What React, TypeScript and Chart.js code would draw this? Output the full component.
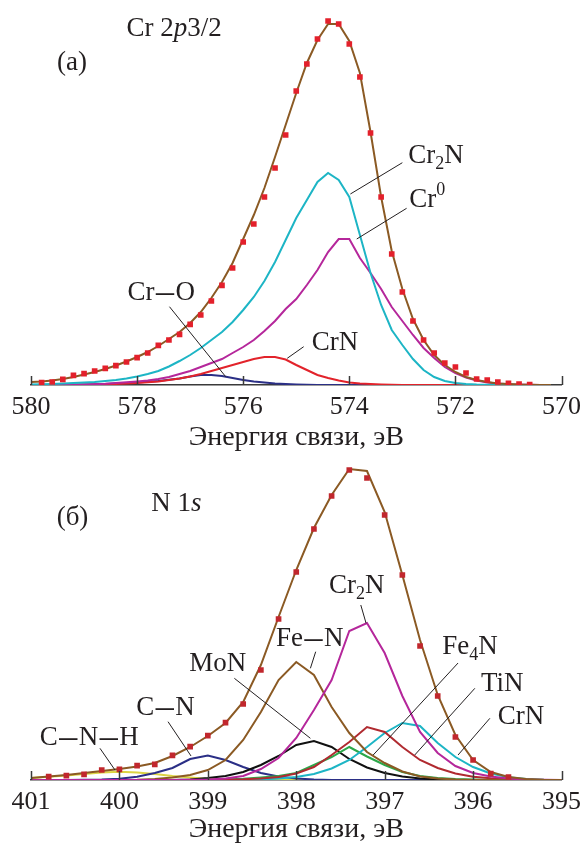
import React, { useEffect, useRef } from "react";
import { Chart, registerables } from "chart.js";
Chart.register(...registerables);

const FONT_FAMILY = '"Liberation Serif", "Times New Roman", serif';
const TEXT = "#231f20";

// ---------- Panel (a): Cr 2p3/2 ----------
const energyA = [
  580.0, 579.8, 579.6, 579.4, 579.2, 579.0, 578.8, 578.6, 578.4, 578.2,
  578.0, 577.8, 577.6, 577.4, 577.2, 577.0, 576.8, 576.6, 576.4, 576.2,
  576.0, 575.8, 575.6, 575.4, 575.2, 575.0, 574.8, 574.6, 574.4, 574.2,
  574.0, 573.8, 573.6, 573.4, 573.2, 573.0, 572.8, 572.6, 572.4, 572.2,
  572.0, 571.8, 571.6, 571.4, 571.2, 571.0, 570.8, 570.6, 570.4, 570.2,
];
const pointsEnergyA = energyA.slice(1, 48);
const pointsA = [
  2.3, 3, 5.7, 9.7, 11.3, 14, 16.7, 19.3, 23, 27.3, 32, 39.7, 45, 50.7, 60.7,
  70, 84, 99.7, 117, 143, 161, 188, 217, 250, 294, 321, 346, 364, 361, 341,
  308, 252, 188, 131, 93, 64, 45, 32, 22, 18, 12, 6, 5, 3, 1.7, 1, 0.3,
];
const envelopeA = [
  3, 3.5, 4.5, 6, 8, 10.5, 13, 16, 19.5, 23.5, 28, 33, 39, 46, 53, 62, 73, 87,
  103, 122, 146, 170, 197, 228, 260, 292, 322, 345, 361, 361, 344, 312, 253,
  188, 134, 96, 66, 45, 30, 20, 13, 8, 5, 3, 1.5, 1, 0.5, 0.3, 0.1, 0,
];
const cr2nA = [
  0.5, 0.7, 1, 1.5, 2, 2.5, 3, 4, 5, 6.5, 8.5, 11, 14, 18.5, 24, 30, 37, 45,
  53, 63, 75, 88, 104, 123, 145, 167, 185, 203, 212, 205, 188, 150, 112, 80,
  55, 40, 26, 15, 8, 4, 2, 1, 0.5, 0.3, 0.1, 0, 0, 0, 0, 0,
];
const cr0A = [
  0, 0, 0, 0.2, 0.3, 0.5, 0.8, 1.2, 2, 2.7, 3.5, 4.5, 6, 8, 11, 14, 18, 22,
  26, 32, 38, 45, 54, 64, 76, 86, 100, 115, 133, 146, 146, 127, 112, 96, 78,
  64, 50, 37, 27, 18, 12, 7.5, 4.5, 2.5, 1.5, 0.8, 0.5, 0.3, 0.1, 0,
];
const crnA = [
  0, 0, 0, 0, 0.1, 0.2, 0.3, 0.6, 1, 1.5, 2, 2.7, 3.5, 5, 6.5, 8.5, 11, 14,
  17, 20, 23, 26, 28, 28, 25.5, 20, 15, 10, 7, 4.5, 2.5, 1.5, 1, 0.6, 0.3,
  0.1, 0, 0, 0, 0, 0, 0, 0, 0, 0, 0, 0, 0, 0, 0,
];
const croA = [
  0, 0, 0, 0.1, 0.3, 0.5, 0.8, 1.1, 1.5, 2, 2.5, 3.2, 4, 5.2, 6.5, 8.5, 10,
  10, 9, 7, 5, 3.5, 2.5, 1.6, 1, 0.6, 0.3, 0.1, 0, 0, 0, 0, 0, 0, 0, 0, 0, 0,
  0, 0, 0, 0, 0, 0, 0, 0, 0, 0, 0, 0,
];
const ticksA = [580, 578, 576, 574, 572, 570];

// ---------- Panel (б): N 1s ----------
const energyB = [
  401.0, 400.8, 400.6, 400.4, 400.2, 400.0, 399.8, 399.6, 399.4, 399.2,
  399.0, 398.8, 398.6, 398.4, 398.2, 398.0, 397.8, 397.6, 397.4, 397.2,
  397.0, 396.8, 396.6, 396.4, 396.2, 396.0, 395.8, 395.6, 395.4, 395.2,
  395.0,
];
const pointsEnergyB = energyB.slice(1, 28);
const pointsB = [
  3.3, 4.3, 5.7, 10, 10.7, 14.3, 15.7, 24.7, 33.3, 44.3, 57.3, 76, 110, 161,
  208, 251, 284, 310, 302, 265, 205, 134, 84, 43, 20, 6.3, 3,
];
const envelopeB = [
  2, 3.5, 5, 7, 9, 11, 13.5, 17, 24, 33, 44, 57, 78, 115, 163, 210, 252, 285,
  311, 309, 268, 205, 140, 85, 45, 20, 8, 3, 1, 0.3, 0,
];
const cr2nB = [
  0, 0, 0, 0, 0, 0, 0, 0, 0, 0.2, 0.5, 1.5, 4, 11, 22, 42, 70, 100, 149, 157,
  127, 84, 48, 27, 14, 7, 3.5, 1.5, 0.5, 0.2, 0,
];
const fenB = [
  0, 0, 0, 0, 0, 0.1, 0.3, 1, 2.5, 5, 10, 20, 40, 68, 100, 118, 105, 73, 47,
  28, 17, 8.5, 3.5, 1.5, 0.5, 0, 0, 0, 0, 0, 0,
];
const monB = [
  0, 0, 0, 0, 0, 0, 0, 0, 0, 0.5, 2, 4, 8, 15, 24, 35, 39, 33, 21, 12.5, 7,
  3.5, 1.5, 0.5, 0, 0, 0, 0, 0, 0, 0,
];
const cnB = [
  0, 0, 0, 0.2, 0.5, 1.2, 3.3, 7, 12, 21, 24.5, 20, 13, 7, 3.5, 1.5, 0.5, 0,
  0, 0, 0, 0, 0, 0, 0, 0, 0, 0, 0, 0, 0,
];
const cnhB = [
  2, 3.3, 4.5, 6, 7.5, 8.3, 7.5, 6, 4, 2.5, 1, 0.5, 0, 0, 0, 0, 0, 0, 0, 0, 0,
  0, 0, 0, 0, 0, 0, 0, 0, 0, 0,
];
const fe4nB = [
  0, 0, 0, 0, 0, 0, 0, 0, 0, 0, 0.2, 0.5, 1.2, 2.5, 4, 7, 15, 23, 33, 23.5,
  15, 8, 4, 2, 1, 0.5, 0.2, 0, 0, 0, 0,
];
const tinB = [
  0, 0, 0, 0, 0, 0, 0, 0, 0, 0, 0.1, 0.3, 0.7, 1.5, 3, 6.5, 13, 25, 38, 53,
  48, 33, 20, 12, 6.5, 3.3, 1.7, 0.8, 0.3, 0, 0,
];
const crnB = [
  0, 0, 0, 0, 0, 0, 0, 0, 0, 0, 0, 0, 0.2, 0.5, 1.5, 3, 6, 11.5, 20, 33, 47,
  57, 54, 37, 23, 13, 6.5, 2.7, 1, 0.3, 0,
];
const ticksB = [401, 400, 399, 398, 397, 396, 395];

const AXIS_TITLE = "Энергия связи, эВ";

type Seg = { t: string; s?: "i" | "sub" | "sup" | "dash" };
type Label = { x: number; y: number; segs: Seg[] };
type Leader = { x1: number; y1: number; x2: number; y2: number };

const D: Seg = { t: "–", s: "dash" };

const labelsA: Label[] = [
  { x: 578.2, y: 349, segs: [{ t: "Cr 2" }, { t: "p", s: "i" }, { t: "3/2" }] },
  { x: 579.51, y: 315, segs: [{ t: "(a)" }] },
  { x: 572.89, y: 222, segs: [{ t: "Cr" }, { t: "2", s: "sub" }, { t: "N" }] },
  { x: 572.87, y: 178, segs: [{ t: "Cr" }, { t: "0", s: "sup" }] },
  { x: 574.71, y: 35, segs: [{ t: "CrN" }] },
  { x: 578.18, y: 85, segs: [{ t: "Cr" }, D, { t: "O" }] },
];
const leadersA: Leader[] = [
  { x1: 573.0, y1: 222.3, x2: 573.98, y2: 191 },
  { x1: 572.92, y1: 176.7, x2: 573.86, y2: 146 },
  { x1: 574.86, y1: 38.3, x2: 575.17, y2: 26.7 },
  { x1: 577.39, y1: 78.3, x2: 576.33, y2: 8.3 },
];
const labelsB: Label[] = [
  { x: 400.71, y: 255, segs: [{ t: "(б)" }] },
  { x: 399.64, y: 269, segs: [{ t: "N 1" }, { t: "s", s: "i" }] },
  { x: 397.63, y: 187, segs: [{ t: "Cr" }, { t: "2", s: "sub" }, { t: "N" }] },
  { x: 398.23, y: 134, segs: [{ t: "Fe" }, D, { t: "N" }] },
  { x: 399.21, y: 109, segs: [{ t: "MoN" }] },
  { x: 399.81, y: 65, segs: [{ t: "C" }, D, { t: "N" }] },
  { x: 400.9, y: 35, segs: [{ t: "C" }, D, { t: "N" }, D, { t: "H" }] },
  { x: 396.35, y: 126, segs: [{ t: "Fe" }, { t: "4", s: "sub" }, { t: "N" }] },
  { x: 395.91, y: 89, segs: [{ t: "TiN" }] },
  { x: 395.72, y: 56, segs: [{ t: "CrN" }] },
];
const leadersB: Leader[] = [
  { x1: 397.27, y1: 175, x2: 397.21, y2: 156.7 },
  { x1: 397.78, y1: 128.3, x2: 397.84, y2: 111.7 },
  { x1: 398.7, y1: 101.7, x2: 397.84, y2: 41.7 },
  { x1: 399.45, y1: 58.3, x2: 399.19, y2: 24 },
  { x1: 400.22, y1: 31.7, x2: 400.05, y2: 10 },
  { x1: 396.17, y1: 117, x2: 397.13, y2: 25 },
  { x1: 395.98, y1: 91.7, x2: 396.66, y2: 25 },
  { x1: 395.81, y1: 61.7, x2: 396.17, y2: 25 },
];

function annotPlugin(labels: Label[], leaders: Leader[]) {
  return {
    id: "annot",
    afterDatasetsDraw(chart: any) {
      const { ctx } = chart;
      const xs = chart.scales.x;
      const ys = chart.scales.y;
      ctx.save();
      ctx.strokeStyle = TEXT;
      ctx.lineWidth = 1;
      for (const l of leaders) {
        ctx.beginPath();
        ctx.moveTo(xs.getPixelForValue(l.x1), ys.getPixelForValue(l.y1));
        ctx.lineTo(xs.getPixelForValue(l.x2), ys.getPixelForValue(l.y2));
        ctx.stroke();
      }
      ctx.fillStyle = TEXT;
      ctx.textAlign = "left";
      ctx.textBaseline = "alphabetic";
      for (const lab of labels) {
        let px = xs.getPixelForValue(lab.x);
        const py = ys.getPixelForValue(lab.y);
        for (const seg of lab.segs) {
          const small = seg.s === "sub" || seg.s === "sup";
          const size = small ? 18 : seg.s === "dash" ? 36 : 27;
          ctx.font = `${seg.s === "i" ? "italic " : ""}${size}px ${FONT_FAMILY}`;
          const dy =
            seg.s === "sub" ? 6 : seg.s === "sup" ? -12 : seg.s === "dash" ? 2.5 : 0;
          const gap = seg.s === "dash" ? 1.5 : 0;
          px += gap;
          ctx.fillText(seg.t, px, py + dy);
          px += ctx.measureText(seg.t).width + gap;
        }
      }
      ctx.restore();
    },
  };
}

const tickMarks = {
  id: "tickMarks",
  afterDraw(chart: any) {
    const { ctx } = chart;
    const xs = chart.scales.x;
    const b = chart.chartArea.bottom;
    ctx.save();
    ctx.strokeStyle = "#3a3a3a";
    ctx.lineWidth = 1.5;
    for (const t of xs.ticks) {
      const px = Math.round(xs.getPixelForValue(t.value)) + 0.5;
      ctx.beginPath();
      ctx.moveTo(px, b);
      ctx.lineTo(px, b - 9);
      ctx.stroke();
    }
    ctx.restore();
  },
};

function pts(xs: number[], ys: number[]) {
  return xs.map((e, i) => ({ x: e, y: ys[i] }));
}
function line(xs: number[], ys: number[], color: string, label: string) {
  return {
    label,
    data: pts(xs, ys),
    showLine: true,
    borderColor: color,
    backgroundColor: color,
    borderWidth: 2,
    pointRadius: 0,
    tension: 0,
    fill: false,
  };
}
function markers(xs: number[], ys: number[], color: string) {
  return {
    label: "эксперимент",
    data: pts(xs, ys),
    showLine: false,
    pointStyle: "rect",
    pointRadius: 4,
    pointBorderWidth: 0,
    backgroundColor: color,
    borderColor: color,
  };
}

function makeConfig(
  datasets: any[],
  min: number,
  max: number,
  step: number,
  yMax: number,
  axisHeight: number,
  tickValues: number[],
  labels: Label[],
  leaders: Leader[]
) {
  return {
    type: "scatter",
    data: { datasets },
    options: {
      animation: false,
      responsive: false,
      devicePixelRatio: 1,
      layout: { padding: { left: 31, right: 24, top: 10, bottom: 0 } },
      plugins: { legend: { display: false }, tooltip: { enabled: false } },
      scales: {
        x: {
          type: "linear",
          reverse: true,
          min,
          max,
          afterFit: (s: any) => {
            s.height = axisHeight;
          },
          afterBuildTicks: (s: any) => {
            s.ticks = tickValues.map((v) => ({ value: v }));
          },
          ticks: {
            stepSize: step,
            padding: 7,
            color: TEXT,
            font: { family: FONT_FAMILY, size: 26, lineHeight: 1.2 },
            maxRotation: 0,
            autoSkip: false,
            callback: (v: any) => String(v),
          },
          grid: { display: false, drawTicks: false },
          border: { display: true, color: "#3a3a3a", width: 1.5 },
          title: {
            display: true,
            text: AXIS_TITLE,
            color: TEXT,
            font: { family: FONT_FAMILY, size: 28, lineHeight: 1 },
            padding: { top: 0, bottom: 0 },
          },
        },
        y: { display: false, min: 0, max: yMax },
      },
    },
    plugins: [annotPlugin(labels, leaders), tickMarks],
  };
}

export default function App() {
  const refA = useRef<HTMLCanvasElement | null>(null);
  const refB = useRef<HTMLCanvasElement | null>(null);

  useEffect(() => {
    const dsA = [
      markers(pointsEnergyA, pointsA, "#e3202b"),
      line(energyA, envelopeA, "#8b5a24", "огибающая"),
      line(energyA, cr2nA, "#1db5c5", "Cr2N"),
      line(energyA, cr0A, "#b5279b", "Cr0"),
      line(energyA, crnA, "#e2232b", "CrN"),
      line(energyA, croA, "#2b2f86", "Cr–O"),
    ];
    const dsB = [
      markers(pointsEnergyB, pointsB, "#c1272d"),
      line(energyB, envelopeB, "#8b5a24", "огибающая"),
      line(energyB, cr2nB, "#b5279b", "Cr2N"),
      line(energyB, fenB, "#8b5a24", "Fe–N"),
      line(energyB, tinB, "#b02a30", "TiN"),
      line(energyB, crnB, "#1db5c5", "CrN"),
      line(energyB, fe4nB, "#2ca84a", "Fe4N"),
      line(energyB, monB, "#111111", "MoN"),
      line(energyB, cnB, "#2b2f86", "C–N"),
      line(energyB, cnhB, "#dcd443", "C–N–H"),
    ];
    const a = new Chart(
      refA.current as HTMLCanvasElement,
      makeConfig(dsA, 570, 580, 2, 375, 67, ticksA, labelsA, leadersA) as any
    );
    const b = new Chart(
      refB.current as HTMLCanvasElement,
      makeConfig(dsB, 395, 401, 1, 318, 64, ticksB, labelsB, leadersB) as any
    );
    return () => {
      a.destroy();
      b.destroy();
    };
  }, []);

  return (
    <div
      style={{
        position: "absolute",
        left: 0,
        top: 0,
        width: 588,
        height: 844,
        background: "#ffffff",
      }}
    >
      <canvas ref={refA} width={588} height={452} style={{ display: "block" }} />
      <canvas ref={refB} width={588} height={392} style={{ display: "block" }} />
    </div>
  );
}
